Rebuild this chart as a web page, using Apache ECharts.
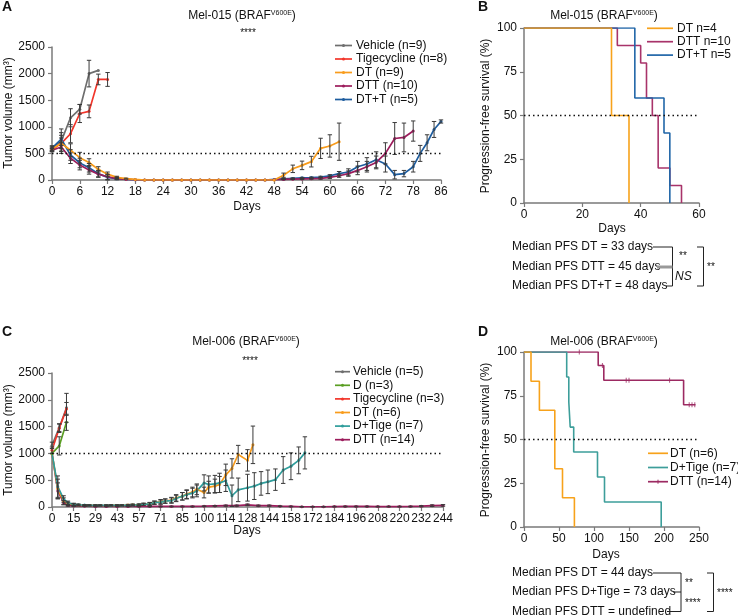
<!DOCTYPE html>
<html><head><meta charset="utf-8">
<script src="https://cdn.jsdelivr.net/npm/echarts@6/dist/echarts.min.js"></script>
<style>html,body{margin:0;padding:0;background:#fff}#c{width:738px;height:616px}</style>
</head><body><div id="c"></div>
<script>
// ---------- Panel A data (Mel-015 tumour volume, mm3) ----------
const A_TICKS = [0,6,12,18,24,30,36,42,48,54,60,66,72,78,86];
const A_VEH_DAYS = [0,2,4,6,8,10];
const A_VEH = [600,730,1170,1330,2000,2060];
const A_VEH_ERR = [40,230,170,90,250,0];
const A_TIG_DAYS = [0,2,4,6,8,10,12];
const A_TIG = [570,690,870,1250,1290,1890,1890];
const A_TIG_ERR = [30,150,170,170,120,100,130];
const A_DT_DAYS = [0,2,4,6,8,10,12,14,16,18,20,22,24,26,28,30,32,34,36,38,40,42,44,46,48,50,52,54,56,58,60,62];
const A_DT = [580,690,560,420,330,200,110,50,25,10,0,0,0,0,0,0,0,0,0,0,0,0,0,0,0,90,210,275,345,595,640,720];
const A_DT_ERR = [40,100,120,100,70,50,40,20,10,0,0,0,0,0,0,0,0,0,0,0,0,0,0,0,0,40,70,80,100,190,210,350];
const A_DTT_DAYS = [0,2,4,6,8,10,12,14,16,18,20,22,24,26,28,30,32,34,36,38,40,42,44,46,48,50,52,54,56,58,60,62,64,66,68,70,72,74,76,78];
const A_DTT = [560,620,410,280,190,110,60,30,10,5,0,0,0,0,0,0,0,0,0,0,0,0,0,0,5,10,15,20,25,30,50,80,120,180,250,330,500,780,800,920];
const A_DTT_ERR = [30,80,100,90,80,60,50,20,0,0,0,0,0,0,0,0,0,0,0,0,0,0,0,0,0,5,5,10,10,15,20,30,50,80,100,120,200,300,270,190];
const A_DTPT_DAYS = [0,2,4,6,8,10,12,14,16,18,20,22,24,26,28,30,32,34,36,38,40,42,44,46,48,50,52,54,56,58,60,62,64,66,68,70,72,74,76,78,80,82,84,86];
const A_DTPT = [600,770,470,320,230,120,50,25,10,5,0,0,0,0,0,0,0,0,0,0,0,0,0,0,10,20,30,40,45,55,80,120,150,250,300,380,300,100,120,250,500,700,950,1100];
const A_DTPT_ERR = [40,120,100,90,80,60,50,20,0,0,0,0,0,0,0,0,0,0,0,0,0,0,0,0,0,5,10,10,10,15,20,40,60,100,120,150,150,80,60,100,150,150,150,30];

// ---------- Panel B data (Mel-015 PFS, %) ----------
const B_DT_T = [0,30,36];            const B_DT_S = [100,50,0];
const B_DTT_T = [0,32,40,42,44,46,50,54]; const B_DTT_S = [100,90,80,60,50,20,10,0];
const B_DTPT_T = [0,38,48,50];       const B_DTPT_S = [100,60,40,0];

// ---------- Panel C data (Mel-006 tumour volume, mm3) ----------
const C_TICKS = [0,15,29,43,57,71,85,100,114,128,144,158,172,184,196,208,220,232,244];
const C_VEH_DAYS = [0,5,10];  const C_VEH = [1150,1480,1850]; const C_VEH_ERR = [60,70,270];
const C_D_DAYS = [0,5,10];    const C_D = [1000,1140,1580];   const C_D_ERR = [0,170,150];
const C_TIG_DAYS = [0,5,10];  const C_TIG = [1060,1470,1830]; const C_TIG_ERR = [60,80,120];
const C_DT_DAYS = [0,4,8,11,15,18,22,25,29,32,36,39,43,46,50,53,57,60,64,67,71,74,78,81,85,88,92,95,100,103,107,110,114,118,122,128,132];
const C_DT = [1000,340,110,60,40,35,30,30,30,28,28,30,30,30,35,40,40,50,60,80,100,110,130,170,200,240,280,330,270,370,390,420,600,720,980,870,1160];
const C_DT_ERR = [0,180,60,30,20,15,10,10,10,10,10,10,10,10,15,15,15,20,25,30,40,40,50,60,70,80,90,100,100,110,130,150,200,180,170,200,350];
const C_DTIGE_DAYS = [0,4,8,11,15,18,22,25,29,32,36,39,43,46,50,53,57,60,64,67,71,74,78,81,85,88,92,95,100,103,107,110,114,118,122,128,133,138,143,148,153,158,163,167];
const C_DTIGE = [1000,380,150,80,50,40,35,30,30,30,30,30,30,30,30,35,40,50,60,80,90,110,120,160,200,230,260,300,450,420,430,450,490,210,320,360,390,440,470,510,690,760,870,1010];
const C_DTIGE_ERR = [0,200,60,30,20,15,10,10,10,10,10,10,10,10,10,15,15,20,25,30,40,40,50,60,70,80,90,110,150,160,160,180,200,200,220,250,250,220,220,200,250,250,250,300];
const C_DTT_DAYS = [0,4,8,11,15,22,29,36,43,50,57,64,71,78,85,92,100,107,114,121,128,136,144,151,158,165,172,178,184,190,196,202,208,214,220,226,232,238,244];
const C_DTT = [1000,300,80,30,20,15,10,10,10,10,10,10,10,10,10,10,15,20,25,25,40,25,25,15,10,5,5,5,8,10,10,10,8,8,8,10,15,25,30];
const C_DTT_ERR = [0,150,40,15,10,5,5,5,5,5,5,5,5,5,5,5,5,5,10,10,15,10,10,5,5,5,5,5,5,5,5,5,5,5,5,5,10,15,15];

// ---------- Panel D data (Mel-006 PFS, %) ----------
const D_DT_T = [0,10,22,44,55,72];            const D_DT_S = [100,83.3,66.7,33.3,16.7,0];
const D_DTIGE_T = [0,61,64,66,71,105,115,196]; const D_DTIGE_S = [100,85.7,71.4,57.1,42.9,28.6,14.3,0];
const D_DTT_T = [0,106,114,228,245];          const D_DTT_S = [100,92.3,83.9,69.9,69.9];
const D_DTT_CENS_T = [79,112,146,150,208,236,240,244];
const D_DTT_CENS_S = [100,92.3,83.9,83.9,83.9,69.9,69.9,69.9];

// ---------- styling ----------
const FF = '"Liberation Sans", Arial, Helvetica, sans-serif';
const TXT = '#111';
const AX = '#7a7a7a';
const COL = {veh:'#6e6e6e', tig:'#f2352a', dt:'#f89c1c', dtt:'#9c1c5c', dtpt:'#1d5c9e', d:'#5a9e23', dtige:'#2f9d9b'};

function pos(day, ticks){
  for (let i=0;i<ticks.length-1;i++){ if (day<=ticks[i+1]) return i+(day-ticks[i])/(ticks[i+1]-ticks[i]); }
  return ticks.length-1;
}
function lineS(days, vals, ticks, color, gi, z){
  return {type:'line', xAxisIndex:gi, yAxisIndex:gi, data:days.map((d,i)=>[pos(d,ticks),vals[i]]),
    symbol:'circle', symbolSize:3, showSymbol:true, lineStyle:{color:color,width:1.7}, itemStyle:{color:color},
    emphasis:{disabled:true}, animation:false, z:z||2};
}
function errRender(params, api){
  const x=api.value(0), lo=api.value(1), hi=api.value(2);
  const a=api.coord([x,hi]), b=api.coord([x,lo]); const w=2.2;
  const st={stroke:'#3a3a3a', lineWidth:1};
  return {type:'group', children:[
    {type:'line', shape:{x1:a[0],y1:a[1],x2:b[0],y2:b[1]}, style:st},
    {type:'line', shape:{x1:a[0]-w,y1:a[1],x2:a[0]+w,y2:a[1]}, style:st},
    {type:'line', shape:{x1:b[0]-w,y1:b[1],x2:b[0]+w,y2:b[1]}, style:st}]};
}
function errS(days, vals, errs, ticks, gi){
  const data=[];
  days.forEach((d,i)=>{ if (errs[i]>0) data.push([pos(d,ticks), Math.max(0,vals[i]-errs[i]), vals[i]+errs[i]]); });
  return {type:'custom', xAxisIndex:gi, yAxisIndex:gi, renderItem:errRender, data:data, encode:{x:0,y:[1,2]}, silent:true, animation:false, z:3};
}
function kmS(ts, ss, color, gi, z){
  return {type:'line', step:'end', xAxisIndex:gi, yAxisIndex:gi, data:ts.map((t,i)=>[t,ss[i]]), symbol:'none',
    lineStyle:{color:color,width:1.6}, emphasis:{disabled:true}, animation:false, z:z||2};
}
function refLine(gi, y){
  return {type:'line', xAxisIndex:gi, yAxisIndex:gi, data:[], silent:true, animation:false,
    markLine:{silent:true, symbol:'none', label:{show:false}, animation:false,
      lineStyle:{color:'#111', type:[1.5,3], width:1.3}, data:[{yAxis:y}]}};
}
const axLine = {show:true, lineStyle:{color:AX, width:1.5}};
const axTick = {show:true, length:4, lineStyle:{color:AX, width:1.2}};
function xAx(gi, min, max, interval, fmt, fs){
  return {gridIndex:gi, type:'value', min:min, max:max, interval:interval, axisLine:axLine, axisTick:axTick,
    splitLine:{show:false}, axisLabel:{fontSize:fs||12, color:TXT, fontFamily:FF, margin:6, formatter:fmt||(v=>String(v)), interval:0, hideOverlap:false, showMinLabel:true, showMaxLabel:true}};
}
function yAx(gi, min, max, interval){
  return {gridIndex:gi, type:'value', min:min, max:max, interval:interval, axisLine:axLine, axisTick:axTick,
    splitLine:{show:false}, axisLabel:{fontSize:12, color:TXT, fontFamily:FF, margin:7, formatter:v=>String(v)}};
}

// ---------- graphic helpers ----------
const G = [];
function T(x,y,text,opt){ opt=opt||{};
  G.push({type:'text', x:x, y:y, rotation:opt.rot||0, silent:true,
    style:{text:text, x:0, y:0, fontSize:opt.fs||12, fontFamily:FF, fontWeight:opt.fw||'normal', fontStyle:opt.it?'italic':'normal',
      fill:TXT, align:opt.align||'left', verticalAlign:opt.va||'middle',
      rich:{s:{fontSize:7, fontFamily:FF, verticalAlign:'top', fill:TXT}}}});
}
function L(x1,y1,x2,y2,c,w){ G.push({type:'line', silent:true, shape:{x1:x1,y1:y1,x2:x2,y2:y2}, style:{stroke:c||'#222', lineWidth:w||1}}); }
function legendRow(x1,x2,xt,y,color,label,marker,tick){
  L(x1,y,x2,y,color,1.7);
  if (marker) G.push({type:'circle', silent:true, shape:{cx:(x1+x2)/2, cy:y, r:1.5}, style:{fill:color}});
  if (tick) L((x1+x2)/2,y-2,(x1+x2)/2,y+2,color,1);
  T(xt,y,label);
}

// panel letters
T(2,7,'A',{fw:'bold',fs:14}); T(478,7,'B',{fw:'bold',fs:14});
T(2,332,'C',{fw:'bold',fs:14}); T(478,332,'D',{fw:'bold',fs:14});
// titles
T(242,16,'Mel-015 (BRAF{s|V600E})',{align:'center'}); T(248,33,'****',{align:'center',fs:10});
T(604,16,'Mel-015 (BRAF{s|V600E})',{align:'center'});
T(246,342,'Mel-006 (BRAF{s|V600E})',{align:'center'}); T(250,361,'****',{align:'center',fs:10});
T(604,342,'Mel-006 (BRAF{s|V600E})',{align:'center'});
// axis names
T(9,113,'Tumor volume (mm³)',{rot:Math.PI/2,align:'center'});
T(9,440,'Tumor volume (mm³)',{rot:Math.PI/2,align:'center'});
T(486,116,'Progression-free survival (%)',{rot:Math.PI/2,align:'center'});
T(486,440,'Progression-free survival (%)',{rot:Math.PI/2,align:'center'});
T(247,207,'Days',{align:'center'}); T(247,531,'Days',{align:'center'});
T(612,229,'Days',{align:'center'}); T(606,555,'Days',{align:'center'});
// legends
[['Vehicle (n=9)',COL.veh],['Tigecycline (n=8)',COL.tig],['DT (n=9)',COL.dt],['DTT (n=10)',COL.dtt],['DT+T (n=5)',COL.dtpt]]
  .forEach((r,i)=>legendRow(335,352,356,45.5+13.5*i,r[1],r[0],true));
[['Vehicle (n=5)',COL.veh],['D (n=3)',COL.d],['Tigecycline (n=3)',COL.tig],['DT (n=6)',COL.dt],['D+Tige (n=7)',COL.dtige],['DTT (n=14)',COL.dtt]]
  .forEach((r,i)=>legendRow(335,350,353,371.7+13.6*i,r[1],r[0],true));
[['DT n=4','#f7a21b'],['DTT n=10','#a8336a'],['DT+T n=5','#2066a8']]
  .forEach((r,i)=>legendRow(647,673,677,28.3+13.4*i,r[1],r[0],false));
[['DT (n=6)','#f7a21b',false],['D+Tige (n=7)','#3d9e9a',false],['DTT (n=14)','#9c2a62',true]]
  .forEach((r,i)=>legendRow(648,668,670,453.3+14.2*i,r[1],r[0],false,r[2]));
// medians B
T(512,247,'Median PFS DT = 33 days'); T(512,267,'Median PFS DTT = 45 days'); T(512,286,'Median PFS DT+T = 48 days');
L(653,247,672.5,247); L(672.5,247,672.5,286); L(666,286,672.5,286);
L(657,267,672.5,267,'#999',3);
T(679,256,'**',{fs:10}); T(675,277,'NS',{it:true});
L(697,247,703.5,247); L(703.5,247,703.5,286); L(697,286,703.5,286);
T(707,267,'**',{fs:10});
// medians D
T(512,573,'Median PFS DT = 44 days'); T(512,592,'Median PFS D+Tige = 73 days'); T(512,611.5,'Median PFS DTT = undefined');
L(653,573,681,573); L(681,573,681,611.5); L(667,611.5,681,611.5); L(673,592,681,592);
T(685,583,'**',{fs:10}); T(685,603,'****',{fs:10});
L(707,573,713.5,573); L(713.5,573,713.5,611.5); L(707,611.5,713.5,611.5);
T(717,593,'****',{fs:10});

const series = [
  refLine(0,500), refLine(1,50), refLine(2,1000), refLine(3,50),
  // A
  lineS(A_VEH_DAYS,A_VEH,A_TICKS,COL.veh,0), lineS(A_TIG_DAYS,A_TIG,A_TICKS,COL.tig,0),
  lineS(A_DTPT_DAYS,A_DTPT,A_TICKS,COL.dtpt,0), lineS(A_DTT_DAYS,A_DTT,A_TICKS,COL.dtt,0),
  lineS(A_DT_DAYS,A_DT,A_TICKS,COL.dt,0),
  errS(A_VEH_DAYS,A_VEH,A_VEH_ERR,A_TICKS,0), errS(A_TIG_DAYS,A_TIG,A_TIG_ERR,A_TICKS,0),
  errS(A_DT_DAYS,A_DT,A_DT_ERR,A_TICKS,0), errS(A_DTT_DAYS,A_DTT,A_DTT_ERR,A_TICKS,0),
  errS(A_DTPT_DAYS,A_DTPT,A_DTPT_ERR,A_TICKS,0),
  // B
  kmS(B_DTT_T,B_DTT_S,'#a8336a',1), kmS(B_DTPT_T,B_DTPT_S,'#2066a8',1), kmS(B_DT_T,B_DT_S,'#f7a21b',1,3),
  // C
  lineS(C_DTT_DAYS,C_DTT,C_TICKS,COL.dtt,2), lineS(C_DT_DAYS,C_DT,C_TICKS,COL.dt,2),
  lineS(C_DTIGE_DAYS,C_DTIGE,C_TICKS,COL.dtige,2),
  lineS(C_VEH_DAYS,C_VEH,C_TICKS,COL.veh,2), lineS(C_D_DAYS,C_D,C_TICKS,COL.d,2), lineS(C_TIG_DAYS,C_TIG,C_TICKS,COL.tig,2),
  errS(C_VEH_DAYS,C_VEH,C_VEH_ERR,C_TICKS,2), errS(C_D_DAYS,C_D,C_D_ERR,C_TICKS,2), errS(C_TIG_DAYS,C_TIG,C_TIG_ERR,C_TICKS,2),
  errS(C_DT_DAYS,C_DT,C_DT_ERR,C_TICKS,2), errS(C_DTIGE_DAYS,C_DTIGE,C_DTIGE_ERR,C_TICKS,2), errS(C_DTT_DAYS,C_DTT,C_DTT_ERR,C_TICKS,2),
  // D
  kmS(D_DTT_T,D_DTT_S,'#9c2a62',3), kmS(D_DTIGE_T,D_DTIGE_S,'#3d9e9a',3), kmS(D_DT_T,D_DT_S,'#f7a21b',3),
  {type:'scatter', xAxisIndex:3, yAxisIndex:3, data:D_DTT_CENS_T.map((t,i)=>[t,D_DTT_CENS_S[i]]),
    symbol:'rect', symbolSize:[1,5], itemStyle:{color:'#9c2a62'}, silent:true, animation:false, z:4}
];

const chart = echarts.init(document.getElementById('c'), null, {renderer:'canvas'});
chart.setOption({
  animation:false,
  backgroundColor:'#fff',
  grid:[
    {left:52, top:47, width:389, height:133, outerBoundsMode:'none'},
    {left:524, top:28, width:175, height:175, outerBoundsMode:'none'},
    {left:52, top:373, width:391, height:134, outerBoundsMode:'none'},
    {left:524, top:352, width:175, height:175, outerBoundsMode:'none'}
  ],
  xAxis:[
    xAx(0,0,A_TICKS.length-1,1,v=>String(A_TICKS[Math.round(v)])),
    xAx(1,0,60,20),
    xAx(2,0,C_TICKS.length-1,1,v=>String(C_TICKS[Math.round(v)])),
    xAx(3,0,250,50)
  ],
  yAxis:[ yAx(0,0,2500,500), yAx(1,0,100,25), yAx(2,0,2500,500), yAx(3,0,100,25) ],
  series:series,
  graphic:G
});
</script></body></html>
